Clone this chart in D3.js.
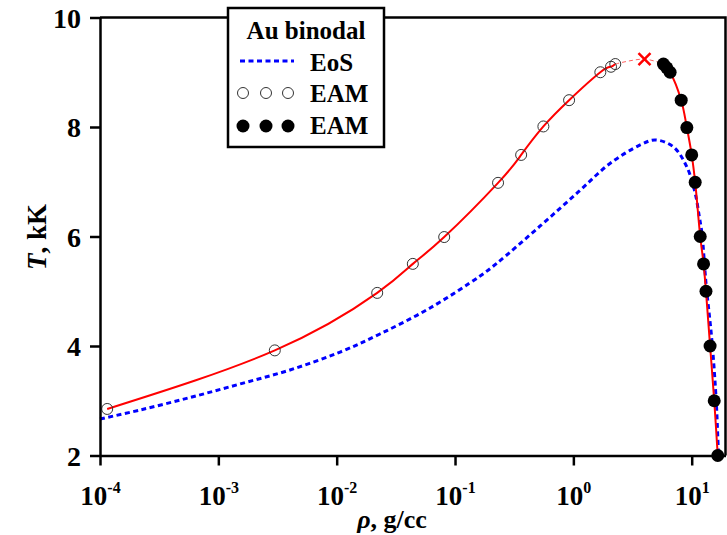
<!DOCTYPE html>
<html>
<head>
<meta charset="utf-8">
<script src="https://cdn.jsdelivr.net/npm/d3@7"></script>
<style>
  body { margin: 0; background: #fff; }
  text { font-family: "Liberation Serif", "Times New Roman", serif; font-weight: bold; }
</style>
</head>
<body>
<div id="chart"></div>
<script>
var width = 727;
var height = 535;

// EAM gas branch (open circles): density g/cc, T kK
var gasRho = [1.15e-4, 3.0e-3, 0.022, 0.044, 0.081, 0.231, 0.362, 0.558, 0.92, 1.69, 2.08, 2.26];
var gasT   = [2.85, 3.92, 4.97, 5.50, 5.99, 6.98, 7.49, 8.01, 8.49, 9.00, 9.10, 9.15];

// EAM liquid branch (filled circles)
var liqRho = [5.77, 6.16, 6.57, 8.15, 9.10, 10.0, 10.7, 11.8, 12.6, 13.2, 14.3, 15.5, 16.6];
var liqT   = [9.15, 9.08, 9.00, 8.49, 7.99, 7.49, 6.99, 6.00, 5.50, 5.00, 4.00, 3.00, 2.00];

// critical point (red cross)
var critRho = 3.99;
var critT = 9.24;

// EoS binodal (blue dashed)
var eosRho = [1.0e-4, 2.18e-4, 5.77e-4, 1.52e-3, 4.03e-3, 0.0107, 0.0232, 0.0615, 0.163, 0.227, 0.524, 1.10, 2.05, 3.67, 4.91, 6.98, 9.10, 10.7, 11.6, 12.2, 13.2, 14.8, 16.1, 16.8, 16.95];
var eosT   = [2.667, 2.831, 3.059, 3.306, 3.562, 3.890, 4.219, 4.694, 5.279, 5.516, 6.192, 6.813, 7.338, 7.672, 7.763, 7.64, 7.27, 6.79, 6.36, 6.06, 5.15, 4.11, 3.01, 2.10, 2.00];

var yTicks = [2, 4, 6, 8, 10];
var xTicks = [1e-4, 1e-3, 1e-2, 1e-1, 1, 10];

var svg = d3.select('#chart')
  .append('svg')
  .attr('width', width)
  .attr('height', height);

var x = d3.scaleLog().domain([1e-4, 19.3]).range([100, 725.5]);
var y = d3.scaleLinear().domain([2, 10]).range([455.5, 17.5]);

var zip = function(a, b) { return a.map(function(v, i) { return [v, b[i]]; }); };
var gas = zip(gasRho, gasT);
var liq = zip(liqRho, liqT);
var eos = zip(eosRho, eosT);

function line(curve) {
  return d3.line()
    .x(function(d) { return x(d[0]); })
    .y(function(d) { return y(d[1]); })
    .curve(curve);
}
var smooth = line(d3.curveCatmullRom.alpha(0.5));
var natural = line(d3.curveNatural);

// frame (top + right)
svg.append('path')
  .attr('d', 'M' + x.range()[0] + ',' + y.range()[1] + 'H' + x.range()[1] + 'V' + y.range()[0])
  .attr('fill', 'none')
  .attr('stroke', '#000')
  .attr('stroke-width', 2.5);

// EoS curve
svg.append('path')
  .attr('d', smooth(eos))
  .attr('fill', 'none')
  .attr('stroke', '#0000ff')
  .attr('stroke-width', 3)
  .attr('stroke-dasharray', '5,3.5');

// red fit curves
svg.append('path')
  .attr('d', natural(gas))
  .attr('fill', 'none')
  .attr('stroke', '#ff0000')
  .attr('stroke-width', 2);

svg.append('path')
  .attr('d', smooth(liq.slice(1)))
  .attr('fill', 'none')
  .attr('stroke', '#ff0000')
  .attr('stroke-width', 2);

svg.append('path')
  .attr('d', smooth([gas[gas.length - 1], [critRho, critT], liq[0]]))
  .attr('fill', 'none')
  .attr('stroke', '#ff6060')
  .attr('stroke-width', 1)
  .attr('stroke-dasharray', '4,3');

// EAM points
svg.selectAll('.gas')
  .data(gas)
  .enter().append('circle')
  .attr('class', 'gas')
  .attr('cx', function(d) { return x(d[0]); })
  .attr('cy', function(d) { return y(d[1]); })
  .attr('r', 5.5)
  .attr('fill', 'none')
  .attr('stroke', '#333')
  .attr('stroke-width', 1);

svg.selectAll('.liq')
  .data(liq)
  .enter().append('circle')
  .attr('class', 'liq')
  .attr('cx', function(d) { return x(d[0]); })
  .attr('cy', function(d) { return y(d[1]); })
  .attr('r', 6.5)
  .attr('fill', '#000');

// critical point cross
var cx = x(critRho), cy = y(critT), s = 6;
svg.append('path')
  .attr('d', 'M' + (cx - s) + ',' + (cy - s) + 'L' + (cx + s) + ',' + (cy + s) +
             'M' + (cx - s) + ',' + (cy + s) + 'L' + (cx + s) + ',' + (cy - s))
  .attr('stroke', '#ff0000')
  .attr('stroke-width', 2.5);

// axes
var yAxis = svg.append('g')
  .attr('transform', 'translate(100,0)')
  .call(d3.axisLeft(y).tickValues(yTicks).tickSize(10).tickSizeOuter(0).tickFormat(d3.format('d')));

var xAxis = svg.append('g')
  .attr('transform', 'translate(0,455.5)')
  .call(d3.axisBottom(x).tickValues(xTicks).tickSize(10).tickSizeOuter(0).tickFormat(''));

[yAxis, xAxis].forEach(function(g) {
  g.selectAll('.domain, line').attr('stroke', '#000').attr('stroke-width', 2.5);
});

yAxis.selectAll('text')
  .attr('x', -19)
  .attr('dy', '0.35em')
  .attr('fill', '#000')
  .style('font-size', '28px');

xAxis.selectAll('.tick').append('text')
  .attr('y', 49)
  .attr('fill', '#000')
  .attr('text-anchor', 'middle')
  .style('font-size', '27px')
  .each(function(d) {
    var t = d3.select(this);
    t.append('tspan').text('10');
    t.append('tspan')
      .attr('dy', -12)
      .style('font-size', '16px')
      .text(Math.round(Math.log10(d)));
  });

// axis titles
var yTitle = svg.append('text')
  .attr('transform', 'translate(46,237) rotate(-90)')
  .attr('text-anchor', 'middle')
  .style('font-size', '27px');
yTitle.append('tspan').style('font-style', 'italic').text('T');
yTitle.append('tspan').text(', kK');

var xTitle = svg.append('text')
  .attr('x', 392)
  .attr('y', 528)
  .attr('text-anchor', 'middle')
  .style('font-size', '26px');
xTitle.append('tspan').style('font-style', 'italic').text('ρ');
xTitle.append('tspan').text(', g/cc');

// legend
var legend = svg.append('g');
legend.append('rect')
  .attr('x', 228).attr('y', 8)
  .attr('width', 156).attr('height', 139)
  .attr('fill', '#fff')
  .attr('stroke', '#000')
  .attr('stroke-width', 2.5);

legend.append('text')
  .attr('x', 306).attr('y', 39)
  .attr('text-anchor', 'middle')
  .style('font-size', '25px')
  .text('Au binodal');

legend.append('line')
  .attr('x1', 240).attr('x2', 294)
  .attr('y1', 61).attr('y2', 61)
  .attr('stroke', '#0000ff')
  .attr('stroke-width', 3)
  .attr('stroke-dasharray', '5,3.5');

[243, 266, 288].forEach(function(px) {
  legend.append('circle')
    .attr('cx', px).attr('cy', 93).attr('r', 5.5)
    .attr('fill', 'none').attr('stroke', '#333').attr('stroke-width', 1);
  legend.append('circle')
    .attr('cx', px).attr('cy', 126).attr('r', 6.5)
    .attr('fill', '#000');
});

[['EoS', 71], ['EAM', 102], ['EAM', 134]].forEach(function(r) {
  legend.append('text')
    .attr('x', 310).attr('y', r[1])
    .style('font-size', '25px')
    .text(r[0]);
});
</script>
</body>
</html>
